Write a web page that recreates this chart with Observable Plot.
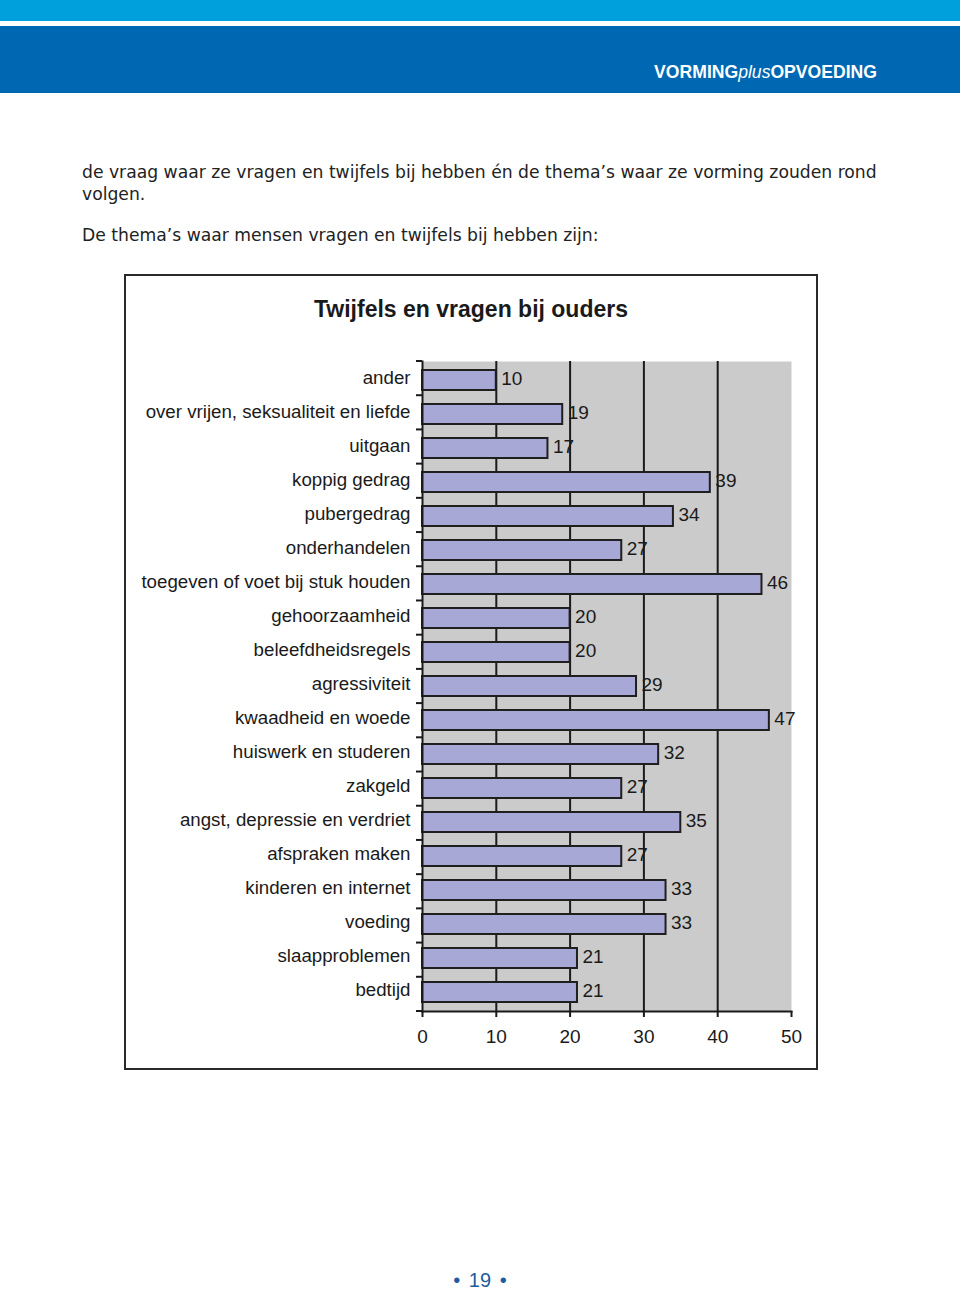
<!DOCTYPE html>
<html><head><meta charset="utf-8">
<script src="https://cdn.jsdelivr.net/npm/d3@7"></script>
<script src="https://cdn.jsdelivr.net/npm/@observablehq/plot@0.6"></script>
<style>
body{margin:0;background:#fff;}
#page{position:relative;width:960px;height:1293px;overflow:hidden;background:#fff;}
.band1{position:absolute;left:0;top:0;width:960px;height:21px;background:#00a0dc;}
.band2{position:absolute;left:0;top:26px;width:960px;height:67px;background:#0068b2;}
.brand{position:absolute;right:83px;top:62px;line-height:17px;font:bold 17.6px "Liberation Sans",Arial,sans-serif;color:#fff;white-space:nowrap;}
.brand i{font-weight:normal;}
.para{position:absolute;left:82px;font-family:"DejaVu Sans",sans-serif;font-size:17.2px;line-height:21.5px;color:#222;white-space:nowrap;}
#box{position:absolute;left:124px;top:274px;width:690px;height:792px;border:2px solid #2a2a2a;background:#fff;}
#title{position:absolute;left:124px;width:694px;top:297.5px;text-align:center;font:bold 23px/23px "Liberation Sans",Arial,sans-serif;color:#1a1a1a;}
#chart{position:absolute;left:126px;top:350px;}
#pagenum{position:absolute;left:0;width:960px;top:1270px;text-align:center;font:20px/20px "Liberation Sans",Arial,sans-serif;color:#1e5c9e;word-spacing:3px;}
</style></head><body>
<div id="page">
  <div class="band1"></div>
  <div class="band2"></div>
  <div class="brand">VORMING<i>plus</i>OPVOEDING</div>
  <div class="para" style="top:162px">de vraag waar ze vragen en twijfels bij hebben én de thema’s waar ze vorming zouden rond<br>volgen.</div>
  <div class="para" style="top:225px">De thema’s waar mensen vragen en twijfels bij hebben zijn:</div>
  <div id="box"></div>
  <div id="title">Twijfels en vragen bij ouders</div>
  <div id="chart"></div>
  <div id="pagenum">• 19 •</div>
</div>
<script>
const categories = [
  "ander",
  "over vrijen, seksualiteit en liefde",
  "uitgaan",
  "koppig gedrag",
  "pubergedrag",
  "onderhandelen",
  "toegeven of voet bij stuk houden",
  "gehoorzaamheid",
  "beleefdheidsregels",
  "agressiviteit",
  "kwaadheid en woede",
  "huiswerk en studeren",
  "zakgeld",
  "angst, depressie en verdriet",
  "afspraken maken",
  "kinderen en internet",
  "voeding",
  "slaapproblemen",
  "bedtijd"
];
const values = [10, 19, 17, 39, 34, 27, 46, 20, 20, 29, 47, 32, 27, 35, 27, 33, 33, 21, 21];
const xTicks = [0, 10, 20, 30, 40, 50];
const gridValues = [10, 20, 30, 40];

const data = categories.map((c, i) => ({category: c, value: values[i]}));
const FONT = "Liberation Sans, Arial, sans-serif";

const plot = Plot.plot({
  width: 690,
  height: 718,
  marginLeft: 296,
  marginRight: 25,
  marginTop: 11,
  marginBottom: 57,
  style: {fontFamily: FONT, fontSize: "18.5px", color: "#1a1a1a", background: "transparent", overflow: "visible"},
  x: {domain: [0, 50]},
  y: {domain: categories, paddingInner: 0.4, paddingOuter: 0.2},
  marks: [
    Plot.frame({fill: "#cbcbcb", stroke: "none"}),
    Plot.ruleX(gridValues, {stroke: "#1a1a1a", strokeWidth: 2}),
    Plot.barX(data, {x: "value", y: "category", fill: "#a8a8d6", stroke: "#1f1f1f", strokeWidth: 2}),
    Plot.text(data, {x: "value", y: "category", text: d => String(d.value), dx: 5, dy: -2, textAnchor: "start", fontSize: 19, fill: "#1a1a1a"}),
    Plot.frame({anchor: "left", stroke: "#1a1a1a", strokeWidth: 2}),
    Plot.frame({anchor: "bottom", stroke: "#1a1a1a", strokeWidth: 2}),
    Plot.axisX({ticks: xTicks, tickSize: 6, tickPadding: 12, strokeWidth: 2, label: null, fontSize: 19}),
    Plot.axisY({tickSize: 0, tickPadding: 12, label: null, fontSize: 18.7, dy: -2})
  ]
});
document.getElementById("chart").appendChild(plot);

// category-boundary tick marks on the y axis, from the plot's own scales
const ys = plot.scale("y");
const xs = plot.scale("x");
const x0 = xs.apply(0);
const r0 = Math.min(...ys.range), r1 = Math.max(...ys.range);
const step = (r1 - r0) / categories.length;
const svg = d3.select(plot);
const g = svg.append("g").attr("stroke", "#1a1a1a").attr("stroke-width", 2);
d3.range(categories.length + 1).forEach(i => {
  const y = r0 + i * step;
  g.append("line").attr("x1", x0 - 6).attr("x2", x0).attr("y1", y).attr("y2", y);
});
</script>
</body></html>
